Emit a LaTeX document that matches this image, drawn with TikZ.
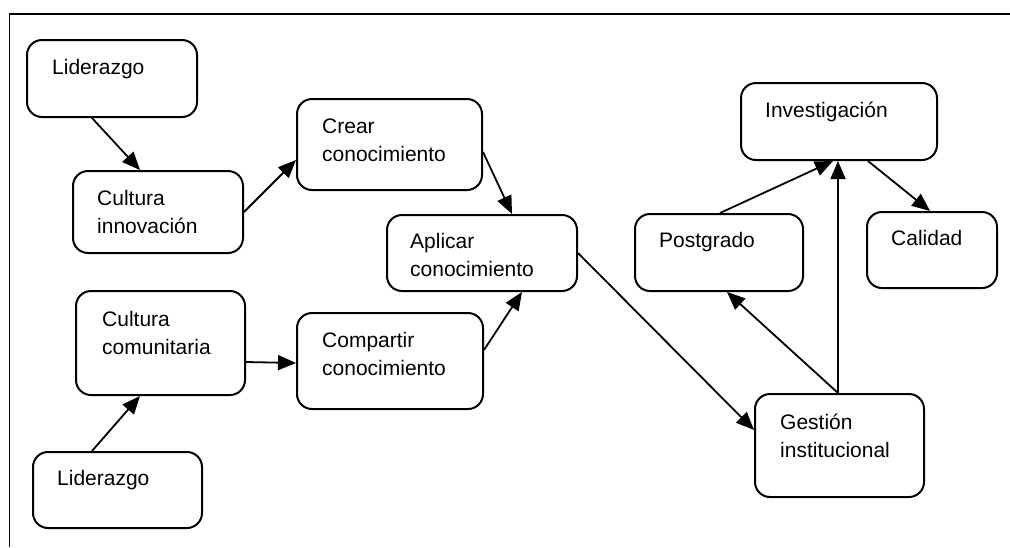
\documentclass[tikz,border=0pt]{standalone}
\usepackage{fontspec}
\setmainfont{Liberation Sans}
\usetikzlibrary{arrows.meta,calc}
\begin{document}
\begin{tikzpicture}[x=1pt,y=-1pt,
  rbox/.style={draw=black,line width=2pt,rounded corners=15pt,fill=white,inner sep=0pt},
  lbl/.style={anchor=base west,inner sep=0pt,font=\fontsize{21}{28}\selectfont},
  arr/.style={draw=black,line width=1.8pt,-{Triangle[length=18pt,width=15pt]}}]
\useasboundingbox (0,0) rectangle (1010,547);
% frame
\draw[line width=1.8pt] (9.5,547) -- (9.5,14) -- (1010,14);
% boxes
\node[rbox,minimum width=170pt,minimum height=77pt]  (lid1)  at (112,78.5)   {};
\node[rbox,minimum width=170pt,minimum height=82pt]  (inno)  at (158,212)    {};
\node[rbox,minimum width=169pt,minimum height=104pt] (comu)  at (160.5,343)  {};
\node[rbox,minimum width=169pt,minimum height=76pt]  (lid2)  at (117.5,490)  {};
\node[rbox,minimum width=185pt,minimum height=91pt]  (crear) at (389.5,144.5) {};
\node[rbox,minimum width=190pt,minimum height=76pt]  (aplic) at (482,253)    {};
\node[rbox,minimum width=186pt,minimum height=96pt]  (comp)  at (390,361)    {};
\node[rbox,minimum width=168pt,minimum height=77pt]  (post)  at (719,252.5)  {};
\node[rbox,minimum width=130pt,minimum height=76pt]  (cali)  at (932,250)    {};
\node[rbox,minimum width=196pt,minimum height=77pt]  (inv)   at (839,121.5)  {};
\node[rbox,minimum width=169pt,minimum height=103pt] (gest)  at (839.5,445.5) {};
% labels
\node[lbl] (t-lid1) at (52,74) {Liderazgo};
\node[lbl] (t-inno1) at (97,205) {Cultura};
\node[lbl] (t-inno2) at (97,233) {innovación};
\node[lbl] (t-comu1) at (102,326) {Cultura};
\node[lbl] (t-comu2) at (102,354) {comunitaria};
\node[lbl] (t-lid2) at (57,485) {Liderazgo};
\node[lbl] (t-crear1) at (322,133) {Crear};
\node[lbl] (t-crear2) at (322,161) {conocimiento};
\node[lbl] (t-aplic1) at (410,248) {Aplicar};
\node[lbl] (t-aplic2) at (410,276) {conocimiento};
\node[lbl] (t-comp1) at (322,347) {Compartir};
\node[lbl] (t-comp2) at (322,375) {conocimiento};
\node[lbl] (t-post) at (659,247) {Postgrado};
\node[lbl] (t-cali) at (891,245) {Calidad};
\node[lbl] (t-inv) at (765,117) {Investigación};
\node[lbl] (t-gest1) at (780,429) {Gestión};
\node[lbl] (t-gest2) at (780,457) {institucional};
% connectors
\draw[arr] ($(lid1.south)+(-20,0)$) -- ($(inno.north)+(-18,0)$);
\draw[arr] (inno.east) -- ($(crear.west)+(0,15.5)$);
\draw[arr] ($(crear.east)+(0,7.5)$) -- ($(aplic.north)+(30,0)$);
\draw[arr] ($(comu.east)+(0,19)$) -- ($(comp.west)+(0,2)$);
\draw[arr] ($(lid2.north)+(-25.5,0)$) -- ($(comu.south)+(-20.5,0)$);
\draw[arr] ($(comp.east)+(0,-11)$) -- ($(aplic.south)+(40,0)$);
\draw[arr] (aplic.east) -- ($(gest.west)+(0,-15.5)$);
\draw[arr] ($(gest.north)+(-1.5,0)$) -- ($(post.south)+(8,0)$);
\draw[arr] ($(gest.north)+(-1.5,0)$) -- ($(inv.south)+(-1,0)$);
\draw[arr] ($(post.north)+(1,0)$) -- ($(inv.south)+(-6,0)$);
\draw[arr] ($(inv.south)+(29,0)$) -- ($(cali.north)+(-2,0)$);
\end{tikzpicture}
\end{document}
